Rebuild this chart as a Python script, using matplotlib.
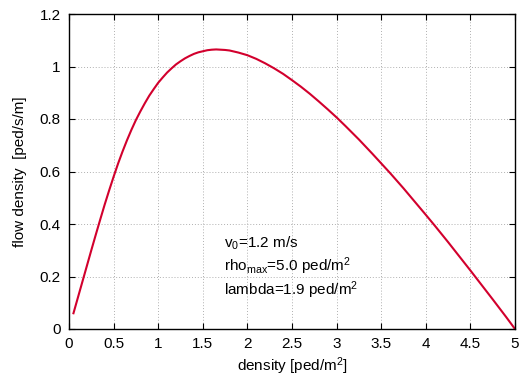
import matplotlib
matplotlib.use("Agg")
import matplotlib.pyplot as plt

plt.rcParams['font.family'] = ['Liberation Sans', 'DejaVu Sans']
plt.rcParams['mathtext.fontset'] = 'custom'
plt.rcParams['mathtext.rm'] = 'Liberation Sans'
plt.rcParams['mathtext.it'] = 'Liberation Sans'

# density [ped/m^2] and flow density [ped/s/m]
density = [0.05, 0.1, 0.15, 0.2, 0.25, 0.3, 0.35, 0.4, 0.45, 0.5, 0.55, 0.6, 0.65,
           0.7, 0.75, 0.8, 0.85, 0.9, 0.95, 1.0, 1.05, 1.1, 1.15, 1.2, 1.25, 1.3,
           1.35, 1.4, 1.45, 1.5, 1.55, 1.6, 1.65, 1.7, 1.75, 1.8, 1.9, 2.0, 2.1,
           2.2, 2.3, 2.4, 2.5, 2.6, 2.7, 2.8, 2.9, 3.0, 3.1, 3.25, 3.4, 3.5, 3.6,
           3.75, 4.0, 4.1, 4.25, 4.5, 4.75, 4.9, 5.0]
flow = [0.06, 0.12, 0.18, 0.24, 0.3, 0.359, 0.417, 0.474, 0.528, 0.58, 0.63, 0.676,
        0.719, 0.759, 0.796, 0.829, 0.86, 0.889, 0.914, 0.938, 0.958, 0.977, 0.993,
        1.008, 1.02, 1.031, 1.04, 1.048, 1.054, 1.058, 1.062, 1.064, 1.065, 1.064,
        1.063, 1.061, 1.053, 1.043, 1.029, 1.012, 0.993, 0.972, 0.948, 0.923, 0.896,
        0.867, 0.837, 0.806, 0.773, 0.722, 0.668, 0.631, 0.594, 0.536, 0.435, 0.394,
        0.331, 0.223, 0.113, 0.046, 0.0]

xticks = [0, 0.5, 1, 1.5, 2, 2.5, 3, 3.5, 4, 4.5, 5]
yticks = [0, 0.2, 0.4, 0.6, 0.8, 1, 1.2]
notes = ['v$_0$=1.2 m/s', 'rho$_{max}$=5.0 ped/m$^2$', 'lambda=1.9 ped/m$^2$']

fig = plt.figure(figsize=(5.22, 3.78), dpi=100)
ax = fig.add_axes([69 / 522, 1 - 329 / 378, 446 / 522, 315 / 378])

ax.plot(density, flow, color='#d2002d', lw=1.5)

ax.set_xlim(0, 5)
ax.set_ylim(0, 1.2)
ax.set_xticks(xticks)
ax.set_xticklabels([f'{t:g}' for t in xticks])
ax.set_yticks(yticks)
ax.set_yticklabels([f'{t:g}' for t in yticks])
ax.tick_params(direction='in', length=4, width=0.8, labelsize=11, pad=6,
               top=True, right=True)
ax.grid(True, color='#b0b0b0', linestyle=(0, (1, 2)), linewidth=0.7)
for s in ax.spines.values():
    s.set_linewidth(1.0)

ax.set_xlabel('density [ped/m$^2$]', fontsize=11, labelpad=3)
ax.set_ylabel('flow density  [ped/s/m]', fontsize=11, labelpad=9)

for i, t in enumerate(notes):
    ax.text(1.74, 0.328 - i * 0.09, t, fontsize=11, va='center', ha='left')

fig.savefig('out.png', dpi=100)
